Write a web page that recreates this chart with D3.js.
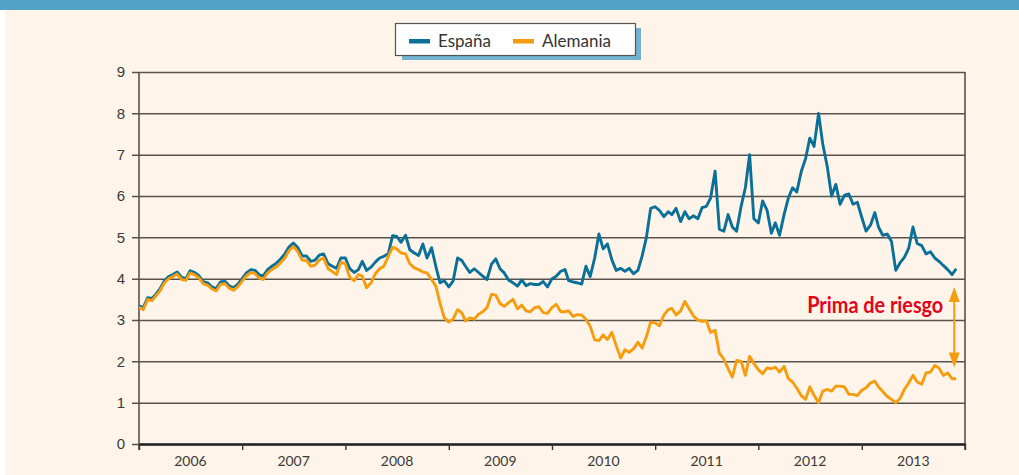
<!DOCTYPE html>
<html>
<head>
<meta charset="utf-8">
<script src="https://cdn.jsdelivr.net/npm/d3@7"></script>
<style>
    html, body { margin: 0; padding: 0; background: #ffffff; }
    svg { display: block; }
</style>
</head>
<body>
<div id="chart"></div>
<script>
// Fechas (día 1 y 16 de cada mes)
const fechas = [
    '2006-01-01','2006-01-16','2006-02-01','2006-02-16','2006-03-01','2006-03-16','2006-04-01','2006-04-16','2006-05-01','2006-05-16','2006-06-01','2006-06-16',
    '2006-07-01','2006-07-16','2006-08-01','2006-08-16','2006-09-01','2006-09-16','2006-10-01','2006-10-16','2006-11-01','2006-11-16','2006-12-01','2006-12-16',
    '2007-01-01','2007-01-16','2007-02-01','2007-02-16','2007-03-01','2007-03-16','2007-04-01','2007-04-16','2007-05-01','2007-05-16','2007-06-01','2007-06-16',
    '2007-07-01','2007-07-16','2007-08-01','2007-08-16','2007-09-01','2007-09-16','2007-10-01','2007-10-16','2007-11-01','2007-11-16','2007-12-01','2007-12-16',
    '2008-01-01','2008-01-16','2008-02-01','2008-02-16','2008-03-01','2008-03-16','2008-04-01','2008-04-16','2008-05-01','2008-05-16','2008-06-01','2008-06-16',
    '2008-07-01','2008-07-16','2008-08-01','2008-08-16','2008-09-01','2008-09-16','2008-10-01','2008-10-16','2008-11-01','2008-11-16','2008-12-01','2008-12-16',
    '2009-01-01','2009-01-16','2009-02-01','2009-02-16','2009-03-01','2009-03-16','2009-04-01','2009-04-16','2009-05-01','2009-05-16','2009-06-01','2009-06-16',
    '2009-07-01','2009-07-16','2009-08-01','2009-08-16','2009-09-01','2009-09-16','2009-10-01','2009-10-16','2009-11-01','2009-11-16','2009-12-01','2009-12-16',
    '2010-01-01','2010-01-16','2010-02-01','2010-02-16','2010-03-01','2010-03-16','2010-04-01','2010-04-16','2010-05-01','2010-05-16','2010-06-01','2010-06-16',
    '2010-07-01','2010-07-16','2010-08-01','2010-08-16','2010-09-01','2010-09-16','2010-10-01','2010-10-16','2010-11-01','2010-11-16','2010-12-01','2010-12-16',
    '2011-01-01','2011-01-16','2011-02-01','2011-02-16','2011-03-01','2011-03-16','2011-04-01','2011-04-16','2011-05-01','2011-05-16','2011-06-01','2011-06-16',
    '2011-07-01','2011-07-16','2011-08-01','2011-08-16','2011-09-01','2011-09-16','2011-10-01','2011-10-16','2011-11-01','2011-11-16','2011-12-01','2011-12-16',
    '2012-01-01','2012-01-16','2012-02-01','2012-02-16','2012-03-01','2012-03-16','2012-04-01','2012-04-16','2012-05-01','2012-05-16','2012-06-01','2012-06-16',
    '2012-07-01','2012-07-16','2012-08-01','2012-08-16','2012-09-01','2012-09-16','2012-10-01','2012-10-16','2012-11-01','2012-11-16','2012-12-01','2012-12-16',
    '2013-01-01','2013-01-16','2013-02-01','2013-02-16','2013-03-01','2013-03-16','2013-04-01','2013-04-16','2013-05-01','2013-05-16','2013-06-01','2013-06-16',
    '2013-07-01','2013-07-16','2013-08-01','2013-08-16','2013-09-01','2013-09-16','2013-10-01','2013-10-16','2013-11-01','2013-11-16','2013-12-01'
]

// Rentabilidad bono a 10 años (%)
const espana = [
    3.34, 3.3, 3.54, 3.52, 3.62, 3.75, 3.95, 4.05, 4.1, 4.16, 4.03, 4.0, 4.19, 4.15, 4.07, 3.93, 3.9, 3.8, 3.76, 3.92, 3.94, 3.83, 3.78, 3.86,
    4.0, 4.14, 4.22, 4.2, 4.1, 4.06, 4.22, 4.3, 4.37, 4.47, 4.6, 4.77, 4.86, 4.76, 4.55, 4.55, 4.42, 4.45, 4.57, 4.6, 4.36, 4.3, 4.25, 4.5,
    4.5, 4.25, 4.15, 4.22, 4.42, 4.2, 4.28, 4.4, 4.5, 4.54, 4.6, 5.04, 5.02, 4.88, 5.05, 4.7, 4.62, 4.56, 4.84, 4.5, 4.75, 4.3, 3.9, 3.95,
    3.8, 3.94, 4.5, 4.44, 4.3, 4.15, 4.24, 4.15, 4.06, 3.98, 4.35, 4.48, 4.24, 4.14, 3.96, 3.9, 3.82, 3.97, 3.83, 3.88, 3.86, 3.86, 3.93, 3.8,
    4.0, 4.06, 4.18, 4.22, 3.95, 3.92, 3.9, 3.87, 4.3, 4.05, 4.5, 5.08, 4.72, 4.84, 4.45, 4.2, 4.25, 4.18, 4.25, 4.12, 4.2, 4.55, 5.0, 5.7,
    5.74, 5.65, 5.5, 5.62, 5.55, 5.7, 5.38, 5.62, 5.45, 5.52, 5.45, 5.72, 5.75, 5.95, 6.6, 5.2, 5.15, 5.55, 5.25, 5.15, 5.75, 6.2, 7.0, 5.45,
    5.35, 5.88, 5.65, 5.1, 5.35, 5.05, 5.55, 5.95, 6.2, 6.1, 6.6, 6.9, 7.4, 7.2, 8.0, 7.25, 6.7, 6.0, 6.28, 5.8, 6.02, 6.05, 5.8, 5.85,
    5.48, 5.15, 5.3, 5.6, 5.25, 5.05, 5.08, 4.9, 4.2, 4.38, 4.52, 4.74, 5.25, 4.85, 4.8, 4.6, 4.65, 4.5, 4.42, 4.32, 4.22, 4.1, 4.24
]

const alemania = [
    3.31, 3.25, 3.5, 3.47, 3.58, 3.7, 3.9, 4.0, 4.05, 4.11, 3.98, 3.96, 4.14, 4.1, 4.02, 3.88, 3.84, 3.75, 3.7, 3.86, 3.88, 3.77, 3.72, 3.8,
    3.94, 4.07, 4.15, 4.12, 4.02, 3.98, 4.14, 4.22, 4.28, 4.38, 4.5, 4.68, 4.78, 4.66, 4.45, 4.44, 4.3, 4.33, 4.45, 4.5, 4.24, 4.17, 4.1, 4.4,
    4.36, 4.04, 3.95, 4.1, 4.06, 3.78, 3.9, 4.12, 4.24, 4.3, 4.54, 4.76, 4.72, 4.62, 4.6, 4.36, 4.26, 4.22, 4.16, 4.14, 3.98, 3.82, 3.4, 3.05,
    2.95, 3.02, 3.25, 3.17, 2.98, 3.05, 3.02, 3.14, 3.2, 3.3, 3.62, 3.6, 3.4, 3.33, 3.42, 3.5, 3.27, 3.36, 3.22, 3.2, 3.3, 3.32, 3.18, 3.16,
    3.3, 3.38, 3.2, 3.2, 3.22, 3.09, 3.13, 3.12, 3.02, 2.85, 2.52, 2.5, 2.64, 2.53, 2.7, 2.38, 2.08, 2.28, 2.22, 2.3, 2.46, 2.32, 2.6, 2.95,
    2.93, 2.86, 3.12, 3.25, 3.28, 3.12, 3.22, 3.45, 3.27, 3.1, 3.0, 2.97, 2.98, 2.7, 2.75, 2.2, 2.05, 1.82, 1.62, 2.02, 2.0, 1.66, 2.12, 1.95,
    1.8, 1.7, 1.84, 1.82, 1.86, 1.74, 1.88, 1.58, 1.5, 1.35, 1.17, 1.08, 1.38, 1.18, 1.0, 1.28, 1.32, 1.28, 1.4, 1.4, 1.38, 1.2, 1.2, 1.17,
    1.3, 1.36, 1.48, 1.52, 1.38, 1.27, 1.15, 1.08, 1.0, 1.1, 1.33, 1.48, 1.66, 1.5, 1.45, 1.72, 1.74, 1.9, 1.84, 1.66, 1.72, 1.58, 1.58
]

const years = ['2006', '2007', '2008', '2009', '2010', '2011', '2012', '2013']
const yTicks = [0, 1, 2, 3, 4, 5, 6, 7, 8, 9]

// Anotación "Prima de riesgo"
const primaFecha = '2013-11-24'
const primaArriba = 3.8
const primaAbajo = 1.85

const config = {
    w: 1019,
    h: 475,
    margin: { top: 72, right: 54, bottom: 31, left: 139 },
    bg: '#fef4e9',
    band: '#50a3c4',
    colorEs: '#0a7098',
    colorDe: '#f59d0e',
    grid: '#57524d',
    text: '#3a3a3a',
    font: 'Lato, "Open Sans", sans-serif',
}

const parse = d3.utcParse('%Y-%m-%d')
const rows = fechas.map((f, i) => ({ date: parse(f), es: espana[i], de: alemania[i] }))

const svg = d3
    .select('#chart')
    .append('svg')
    .attr('width', config.w)
    .attr('height', config.h)
    .style('font-family', config.font)

// Fondo
svg.append('rect').attr('width', config.w).attr('height', config.h).attr('fill', '#ffffff')
svg.append('rect')
    .attr('x', 5)
    .attr('y', 10)
    .attr('width', config.w - 5)
    .attr('height', config.h - 10)
    .attr('fill', config.bg)
svg.append('rect').attr('width', config.w).attr('height', 10).attr('fill', config.band)

const x0 = config.margin.left
const x1 = config.w - config.margin.right
const y0 = config.h - config.margin.bottom
const y1 = config.margin.top

const xScale = d3
    .scaleUtc()
    .domain([parse('2006-01-01'), parse('2014-01-01')])
    .range([x0, x1])

const yScale = d3.scaleLinear().domain([0, 9]).range([y0, y1])

// Eje Y con rejilla (las marcas salen 7px a la izquierda del eje)
const yAxis = d3
    .axisLeft(yScale)
    .tickValues(yTicks)
    .tickSize(x1 - x0 + 7)
    .tickPadding(7)
    .tickFormat(d3.format('d'))

const gy = svg.append('g')
    .attr('transform', `translate(${x1}, 0)`)
    .call(yAxis)
gy.select('.domain').remove()
gy.selectAll('.tick line')
    .attr('stroke', config.grid)
    .attr('stroke-width', 1.5)
gy.selectAll('.tick text')
    .attr('fill', config.text)
    .style('font-size', '15px')

// Bordes verticales
svg.append('line')
    .attr('x1', x0).attr('x2', x0)
    .attr('y1', y1).attr('y2', y0 + 6)
    .attr('stroke', config.grid)
    .attr('stroke-width', 1.6)
svg.append('line')
    .attr('x1', x1).attr('x2', x1)
    .attr('y1', y1).attr('y2', y0 + 6)
    .attr('stroke', config.grid)
    .attr('stroke-width', 1.6)

// Eje X
const yearBounds = d3.utcYear.range(parse('2006-01-01'), parse('2014-01-02'))
const xAxis = d3
    .axisBottom(xScale)
    .tickValues(yearBounds)
    .tickSize(6)
    .tickFormat('')
    .tickSizeOuter(0)

const gx = svg.append('g')
    .attr('transform', `translate(0, ${y0})`)
    .call(xAxis)
gx.select('.domain')
    .attr('stroke', '#222')
    .attr('stroke-width', 2.6)
gx.selectAll('.tick line')
    .attr('stroke', '#333')
    .attr('stroke-width', 1.4)

svg.append('g')
    .selectAll('text')
    .data(years)
    .join('text')
    .attr('x', (d) => xScale(parse(`${d}-07-02`)))
    .attr('y', y0 + 22)
    .attr('text-anchor', 'middle')
    .attr('fill', config.text)
    .style('font-size', '14px')
    .text((d) => d)

// Series
const lineEs = d3.line().x((d) => xScale(d.date)).y((d) => yScale(d.es))
const lineDe = d3.line().x((d) => xScale(d.date)).y((d) => yScale(d.de))

svg.append('path')
    .datum(rows)
    .attr('d', lineEs)
    .attr('fill', 'none')
    .attr('stroke', config.colorEs)
    .attr('stroke-width', 2.9)
    .attr('stroke-linejoin', 'round')

svg.append('path')
    .datum(rows)
    .attr('d', lineDe)
    .attr('fill', 'none')
    .attr('stroke', config.colorDe)
    .attr('stroke-width', 2.9)
    .attr('stroke-linejoin', 'round')

// Flecha prima de riesgo
const ax = xScale(parse(primaFecha))
const aTop = yScale(primaArriba)
const aBot = yScale(primaAbajo)
svg.append('line')
    .attr('x1', ax).attr('x2', ax)
    .attr('y1', aTop + 8).attr('y2', aBot - 8)
    .attr('stroke', config.colorDe)
    .attr('stroke-width', 2)
svg.append('path')
    .attr('d', `M${ax},${aTop} L${ax - 5.5},${aTop + 15} L${ax + 5.5},${aTop + 15} Z`)
    .attr('fill', config.colorDe)
svg.append('path')
    .attr('d', `M${ax},${aBot} L${ax - 5.5},${aBot - 15} L${ax + 5.5},${aBot - 15} Z`)
    .attr('fill', config.colorDe)

svg.append('text')
    .attr('x', ax - 11)
    .attr('y', yScale(3.17))
    .attr('text-anchor', 'end')
    .attr('fill', '#e3051b')
    .attr('textLength', 136)
    .attr('lengthAdjust', 'spacingAndGlyphs')
    .style('font-size', '22px')
    .style('font-weight', 'bold')
    .text('Prima de riesgo')

// Leyenda
const legend = svg.append('g')
legend.append('rect')
    .attr('x', 402).attr('y', 28)
    .attr('width', 239).attr('height', 32)
    .attr('fill', '#74b3cf')
legend.append('rect')
    .attr('x', 395.5).attr('y', 23.5)
    .attr('width', 240).attr('height', 32)
    .attr('fill', '#ffffff')
    .attr('stroke', '#555')
    .attr('stroke-width', 1.2)

const legendItems = [
    { label: 'España', color: config.colorEs, x: 409 },
    { label: 'Alemania', color: config.colorDe, x: 513 },
]
legendItems.forEach((item) => {
    legend.append('rect')
        .attr('x', item.x).attr('y', 39)
        .attr('width', 21).attr('height', 4.5)
        .attr('fill', item.color)
    legend.append('text')
        .attr('x', item.x + 29).attr('y', 47)
        .attr('fill', '#333')
        .style('font-size', '17px')
        .text(item.label)
})
</script>
</body>
</html>
